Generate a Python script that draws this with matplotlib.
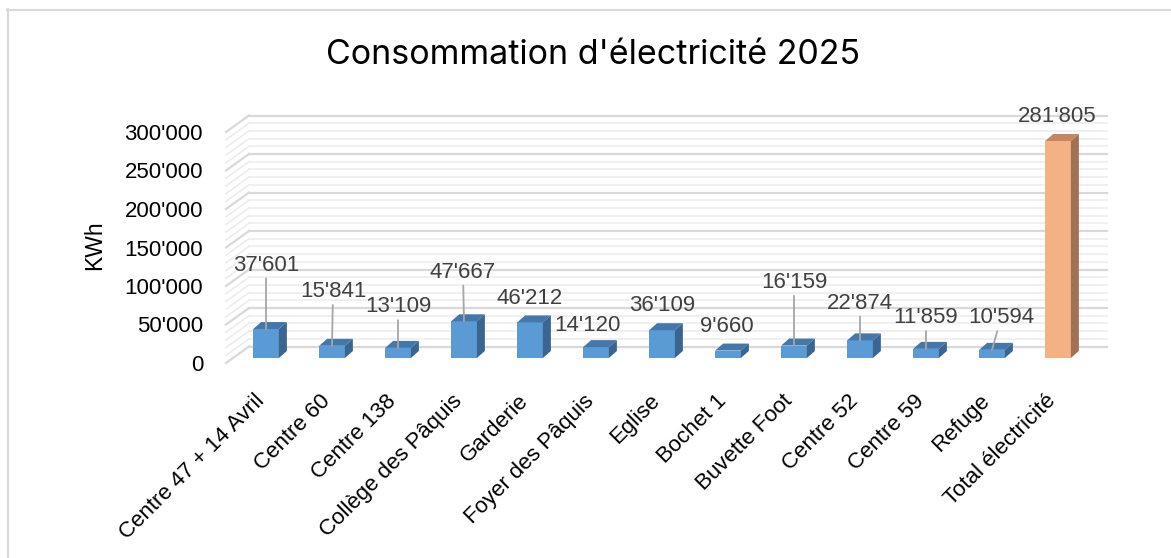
import matplotlib
matplotlib.use("Agg")
import matplotlib.pyplot as plt
import matplotlib.transforms as mtransforms
from matplotlib.patches import Polygon
from matplotlib.lines import Line2D

# ---- data -------------------------------------------------------------
categories = [
    "Centre 47 + 14 Avril", "Centre 60", "Centre 138", "Collège des Pâquis",
    "Garderie", "Foyer des Pâquis", "Eglise", "Bochet 1", "Buvette Foot",
    "Centre 52", "Centre 59", "Refuge", "Total électricité",
]
values = [37601, 15841, 13109, 47667, 46212, 14120, 36109, 9660, 16159,
          22874, 11859, 10594, 281805]
y_ticks = [0, 50000, 100000, 150000, 200000, 250000, 300000]
y_tick_labels = ["0", "50'000", "100'000", "150'000", "200'000", "250'000", "300'000"]
title = "Consommation d'électricité 2025"
y_label = "KWh"

# ---- layout / style ---------------------------------------------------
# value-label offsets from the top of each bar, in pixels, and whether a leader line is drawn
label_offsets = [(0, 64), (1, 54), (0, 41), (-1, 49), (0, 24), (-9, 22), (0, 25),
                 (-1, 24), (0, 63), (0, 37), (0, 31), (9, 32), (-1, 25)]
leaders = [True, True, True, True, False, False, False, False, True, True, True, True, False]

W, H, DPI = 1171, 558, 100
AX_L, AX_B, AX_W, AX_H = 226, 195, 858, 231       # front plane of the plot, pixels
WALL = (23, 16.5)          # depth of the back wall, pixels
FACE = (7, 5)              # depth of the bar fronts, pixels
BAR_DEPTH = (8, 7)         # visible bar depth, pixels
BAR_W = 0.39

blue = ("#5B9BD5", "#4677AB", "#3A6591")       # front, top, side
orange = ("#F4B183", "#C48762", "#A07253")
grid_major = "#D9D9D9"
grid_minor = "#EDEDED"

plt.rcParams["font.family"] = ["Liberation Sans", "DejaVu Sans"]

fig = plt.figure(figsize=(W / DPI, H / DPI), dpi=DPI)
ax = fig.add_axes([AX_L / W, AX_B / H, AX_W / W, AX_H / H])
n = len(categories)
xmin, xmax = -0.5, n - 0.5
ymax = y_ticks[-1]
ax.set_xlim(xmin, xmax)
ax.set_ylim(0, ymax)
for s in ax.spines.values():
    s.set_visible(False)
ax.set_xticks([])
ax.set_yticks(y_ticks)
ax.set_yticklabels(y_tick_labels, fontsize=16, color="#000000")
ax.tick_params(axis="y", length=0, pad=16.5)


def px(dx, dy):
    """Pixel offset -> data offset."""
    return dx * (xmax - xmin) / AX_W, dy * ymax / AX_H


# ---- back wall and side wall gridlines ---------------------------------
wdx, wdy = px(*WALL)
for gv in range(0, ymax + 1, 10000):
    major = gv % 50000 == 0
    c = grid_major if major else grid_minor
    lw = 1.6 if major else 1.2
    ax.add_line(Line2D([xmin + wdx, xmax + wdx], [gv + wdy, gv + wdy],
                       color=c, lw=lw, zorder=1, clip_on=False))
    ax.add_line(Line2D([xmin, xmin + wdx], [gv, gv + wdy],
                       color=c, lw=lw, zorder=1, clip_on=False))

# ---- 3D bars ----------------------------------------------------------
fdx, fdy = px(*FACE)
bdx, bdy = px(*BAR_DEPTH)
for i, v in enumerate(values):
    front, top, side = orange if i == n - 1 else blue
    x0 = i - BAR_W / 2 + fdx
    x1 = i + BAR_W / 2 + fdx
    y0, y1 = fdy, v + fdy
    ax.add_patch(Polygon([(x0, y0), (x1, y0), (x1, y1), (x0, y1)], closed=True,
                         facecolor=front, edgecolor="none", zorder=3, clip_on=False))
    ax.add_patch(Polygon([(x0, y1), (x1, y1), (x1 + bdx, y1 + bdy), (x0 + bdx, y1 + bdy)],
                         closed=True, facecolor=top, edgecolor="none", zorder=3, clip_on=False))
    ax.add_patch(Polygon([(x1, y0), (x1 + bdx, y0 + bdy), (x1 + bdx, y1 + bdy), (x1, y1)],
                         closed=True, facecolor=side, edgecolor="none", zorder=3, clip_on=False))

    label = f"{v:,}".replace(",", "'")
    arrow = dict(arrowstyle="-", color="#A6A6A6", lw=1.3, shrinkA=0, shrinkB=0) if leaders[i] else None
    ax.annotate(label, xy=(i + fdx, y1), xytext=label_offsets[i], textcoords="offset pixels",
                ha="center", va="center", fontsize=16, color="#404040",
                arrowprops=arrow, zorder=5, annotation_clip=False)

# ---- category labels --------------------------------------------------
cat_tr = mtransforms.offset_copy(ax.transData, fig=fig, x=2, y=-35, units="dots")
for i, name in enumerate(categories):
    ax.text(i, 0, name, transform=cat_tr, rotation=45, rotation_mode="anchor",
            ha="right", va="center", fontsize=16, color="#000000")

# ---- titles -----------------------------------------------------------
fig.text(593 / W, 1 - 55 / H, title, ha="center", va="center", fontsize=24.5,
         family=["Inter", "DejaVu Sans"], color="#000000")
fig.text(95 / W, 1 - 245 / H, y_label, ha="center", va="center", rotation=90,
         fontsize=16.5, color="#000000")

# ---- chart border -----------------------------------------------------
fig.add_artist(Line2D([7.5 / W, 7.5 / W], [0, 1 - 9 / H], transform=fig.transFigure,
                      color="#D9D9D9", lw=1.5))
fig.add_artist(Line2D([7 / W, 1], [1 - 9.5 / H, 1 - 9.5 / H], transform=fig.transFigure,
                      color="#D9D9D9", lw=1.5))

fig.savefig("out.png", dpi=DPI)
